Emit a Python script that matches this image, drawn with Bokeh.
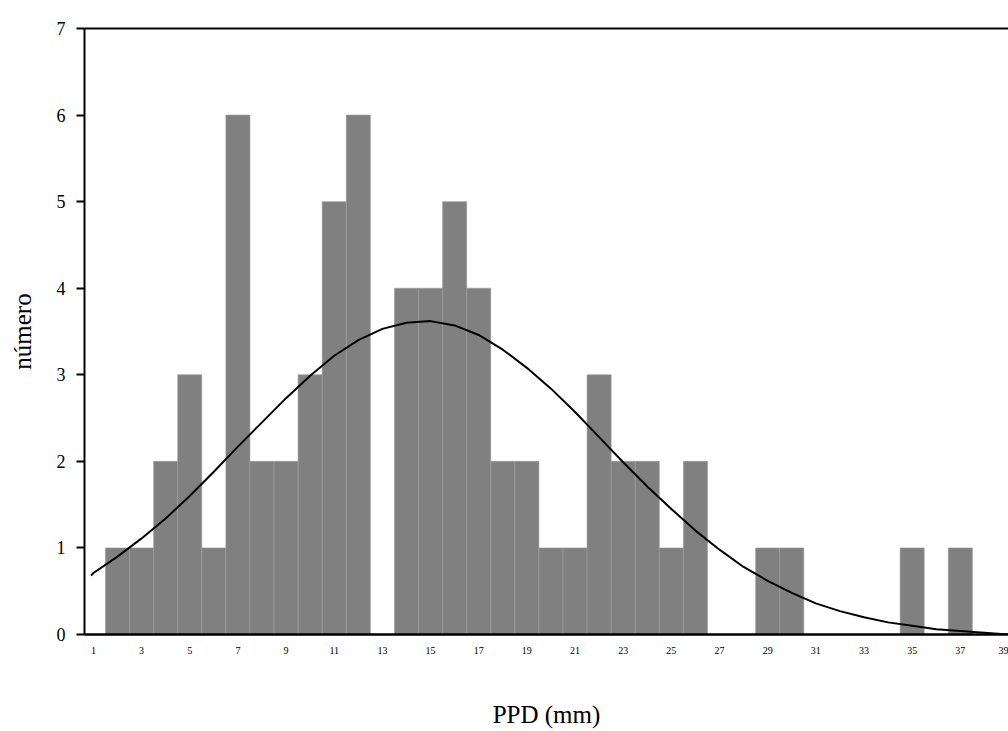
from bokeh.plotting import figure
from bokeh.models import FixedTicker, Range1d, LinearAxis
from bokeh.embed import file_html
from bokeh.resources import INLINE

# PPD histogram (1 mm bins) and the fitted normal curve
ppd = list(range(2, 39))
counts = [1, 1, 2, 3, 1, 6, 2, 2, 3, 5, 6, 0, 4, 4, 5, 4, 2, 2, 1, 1,
          3, 2, 2, 1, 2, 0, 0, 1, 1, 0, 0, 0, 0, 1, 0, 1, 0]

curve_x = [0.9] + list(range(1, 40))
curve_y = [0.68, 0.71, 0.90, 1.11, 1.34, 1.60, 1.88, 2.17, 2.45, 2.73, 2.99,
           3.22, 3.40, 3.53, 3.60, 3.62, 3.57, 3.46, 3.29, 3.08, 2.84,
           2.57, 2.28, 1.99, 1.71, 1.45, 1.20, 0.98, 0.78, 0.62, 0.48,
           0.36, 0.27, 0.20, 0.14, 0.10, 0.06, 0.04, 0.02, 0.0]

x_ticks = list(range(1, 40, 2))
y_ticks = list(range(0, 8))

FONT = "Liberation Serif"

p = figure(width=1008, height=731, output_backend="svg", toolbar_location=None,
           x_range=Range1d(0.63, 39), y_range=Range1d(0, 7),
           min_border_left=84, min_border_right=0, min_border_top=28,
           min_border_bottom=97)
p.outline_line_color = None
p.grid.grid_line_color = None
p.background_fill_color = "white"
p.border_fill_color = "white"

p.vbar(x=ppd, top=counts, width=1.0, bottom=0,
       fill_color="#808080", line_color="#9c9c9c", line_width=0.6)

p.line(curve_x, curve_y, line_color="black", line_width=2)

xa = p.below[0]
xa.ticker = FixedTicker(ticks=x_ticks)
xa.major_tick_out = 0
xa.major_tick_in = 0
xa.minor_tick_line_color = None
xa.axis_line_width = 2.5
xa.axis_line_color = "black"
xa.major_label_text_font = FONT
xa.major_label_text_font_size = "10px"
xa.major_label_text_color = "black"
xa.major_label_standoff = 12
xa.axis_label = "PPD (mm)"
xa.axis_label_text_font = FONT
xa.axis_label_text_font_size = "25px"
xa.axis_label_text_font_style = "normal"
xa.axis_label_text_color = "black"
xa.axis_label_standoff = 44

ya = p.left[0]
ya.ticker = FixedTicker(ticks=y_ticks)
ya.major_tick_out = 8
ya.major_tick_in = 0
ya.major_tick_line_width = 2
ya.minor_tick_line_color = None
ya.axis_line_width = 2
ya.axis_line_color = "black"
ya.major_label_text_font = FONT
ya.major_label_text_font_size = "18px"
ya.major_label_text_color = "black"
ya.major_label_standoff = 11
ya.axis_label = "número"
ya.axis_label_text_font = FONT
ya.axis_label_text_font_size = "25px"
ya.axis_label_text_font_style = "normal"
ya.axis_label_text_color = "black"
ya.axis_label_standoff = 18

# plain top rule along the upper edge of the frame
top = LinearAxis(ticker=FixedTicker(ticks=[]), axis_line_width=2,
                 axis_line_color="black", major_tick_line_color=None,
                 minor_tick_line_color=None, major_label_text_font_size="0px",
                 major_tick_out=0, major_tick_in=0, major_label_standoff=0)
p.add_layout(top, "above")

open("out.html", "w").write(file_html(p, INLINE))
